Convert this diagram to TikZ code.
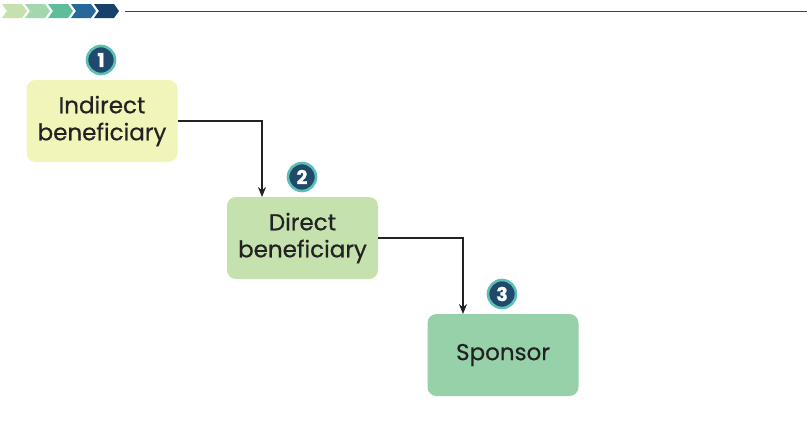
\documentclass[tikz,border=0pt]{standalone}
\usepackage{fontspec}
\setmainfont{Poppins}
\newfontfamily\medfont{Poppins}[FakeBold=0.6]
\newfontfamily\digitfont{Poppins}[FakeBold=1.2]
\usetikzlibrary{arrows.meta}
\definecolor{yel}{HTML}{F2F5BA}
\definecolor{lgreen}{HTML}{C5E1AD}
\definecolor{mgreen}{HTML}{96D1A9}
\definecolor{navy}{HTML}{1F4A6B}
\definecolor{teal}{HTML}{5DBFB4}
\definecolor{cA}{HTML}{C5E1AD}
\definecolor{cB}{HTML}{A3D8AE}
\definecolor{cC}{HTML}{5FBE9A}
\definecolor{cD}{HTML}{27689A}
\definecolor{cE}{HTML}{17406A}
\definecolor{ink}{HTML}{222222}
\tikzset{
  box/.style={rounded corners=9pt, minimum width=151pt, minimum height=82pt, align=center, text=ink, font=\medfont\fontsize{23}{27}\selectfont, inner sep=0pt},
  badge/.style={circle, fill=navy, draw=teal, line width=2.6pt, minimum size=28pt, inner sep=0pt, text=white, font=\digitfont\bfseries\fontsize{19}{19}\selectfont},
  conn/.style={draw=ink, line width=1.1pt, -{Stealth[length=10pt,width=8pt]}}
}
\begin{document}
\begin{tikzpicture}[x=1pt,y=-1pt]
\useasboundingbox (0,0) rectangle (807,421);
\fill[white] (0,0) rectangle (807,421);
% header
\foreach \i/\c in {0/cA,1/cB,2/cC,3/cD,4/cE}{
  \fill[\c] ({2+23*\i},4) -- ({22+23*\i},4) -- ({27+23*\i},11) -- ({22+23*\i},18) -- ({2+23*\i},18) -- ({7+23*\i},11) -- cycle;
}
\coordinate (hl) at (125,11);
\coordinate (hr) at (807,11);
\draw[navy, line width=0.8pt] (hl) -- (hr);
% boxes
\node[box, fill=yel] (b1) at (102,121) {Indirect\\beneficiary};
\node[box, fill=lgreen] (b2) at (302.5,238) {Direct\\beneficiary};
\node[box, fill=mgreen] (b3) at (503,355) {Sponsor};
% badges
\node[badge] (n1) at (101,60) {1};
\node[badge] (n2) at (302,177) {2};
\node[badge] (n3) at (502,294) {3};
% connectors
\coordinate (t2) at (262,197);
\coordinate (t3) at (463,314);
\draw[conn] (b1.east |- 0,121) -| (t2);
\draw[conn] (b2.east |- 0,238) -| (t3);
\end{tikzpicture}
\end{document}
